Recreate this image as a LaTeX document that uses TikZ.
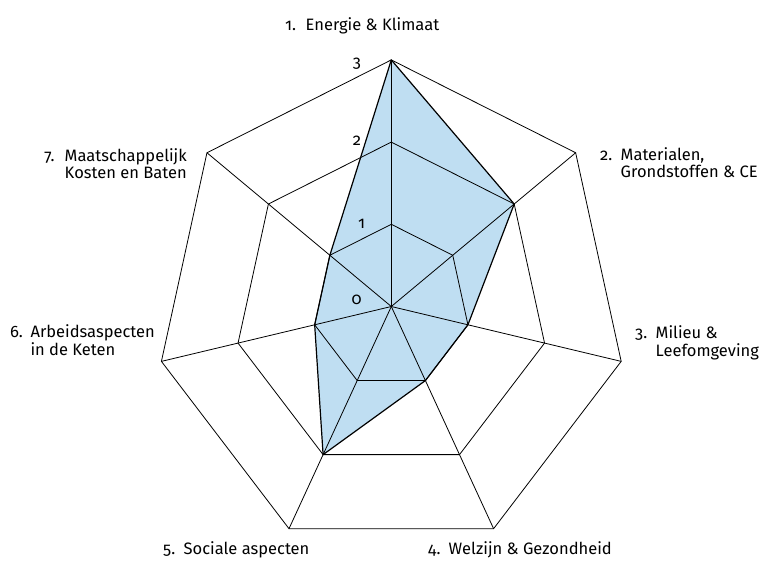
\documentclass[tikz,border=0pt]{standalone}
\usepackage{fontspec}
\setmainfont{Fira Sans}[Numbers=OldStyle]
\definecolor{areafill}{HTML}{BFDEF2}

\begin{document}
\begin{tikzpicture}[x=1pt,y=-1pt,
  grid/.style={black, line width=0.8pt},
  outline/.style={draw=black, line width=1.2pt, line join=round},
  axislabel/.style={inner sep=0pt, font=\fontsize{16.5}{17.5}\selectfont},
  levellabel/.style={inner sep=0pt, font=\fontsize{16.5}{17.5}\selectfont}]
\useasboundingbox (0,0) rectangle (763,566);

% centre and unit per level (horizontal, vertical)
\def\cx{391.3}
\def\cy{306.5}
\def\rx{78.6}
\def\ry{82.2}
\coordinate (c) at (\cx,\cy);
\foreach \k in {1,...,7}{
  \foreach \l in {1,2,3}{
    \coordinate (p\k-\l) at ({\cx+\l*\rx*sin((\k-1)*360/7)}, {\cy-\l*\ry*cos((\k-1)*360/7)});
  }
}

% scored area
\fill[areafill] (p1-3) -- (p2-2) -- (p3-1) -- (p4-1) -- (p5-2) -- (p6-1) -- (p7-1) -- cycle;

% level rings and spokes
\foreach \l in {1,2,3}
  \draw[grid] (p1-\l) -- (p2-\l) -- (p3-\l) -- (p4-\l) -- (p5-\l) -- (p6-\l) -- (p7-\l) -- cycle;
\foreach \k in {1,...,7}
  \draw[grid] (c) -- (p\k-3);

% outline of the scored area
\draw[outline] (p1-3) -- (p2-2) -- (p3-1) -- (p4-1) -- (p5-2) -- (p6-1) -- (p7-1) -- cycle;

% level numbers
\node[levellabel] (v3) at (357,64) {3};
\node[levellabel] (v2) at (357,140.7) {2};
\node[levellabel] (v1) at (361.7,224.3) {1};
\node[levellabel] (v0) at (356.7,300) {0};

% axis titles
\node[axislabel, anchor=base west] (a1) at (285,30.7)
  {\begin{tabular}[t]{@{}p{20.5pt}@{}l@{}}1.&Energie \& Klimaat\end{tabular}};
\node[axislabel, anchor=base west] (a2) at (600,160)
  {\begin{tabular}[t]{@{}p{20.5pt}@{}l@{}}2.&Materialen,\\&Grondstoffen \& CE\end{tabular}};
\node[axislabel, anchor=base west] (a3) at (635,338)
  {\begin{tabular}[t]{@{}p{20.5pt}@{}l@{}}3.&Milieu \&\\&Leefomgeving\end{tabular}};
\node[axislabel, anchor=base west] (a4) at (428,554)
  {\begin{tabular}[t]{@{}p{20.5pt}@{}l@{}}4.&Welzijn \& Gezondheid\end{tabular}};
\node[axislabel, anchor=base west] (a5) at (163,554)
  {\begin{tabular}[t]{@{}p{20.5pt}@{}l@{}}5.&Sociale aspecten\end{tabular}};
\node[axislabel, anchor=base east] (a6) at (155,337)
  {\begin{tabular}[t]{@{}p{20.5pt}@{}l@{}}6.&Arbeidsaspecten\\&in de Keten\end{tabular}};
\node[axislabel, anchor=base east] (a7) at (187,161)
  {\begin{tabular}[t]{@{}p{20.5pt}@{}l@{}}7.&Maatschappelijk\\&Kosten en Baten\end{tabular}};
\end{tikzpicture}
\end{document}
